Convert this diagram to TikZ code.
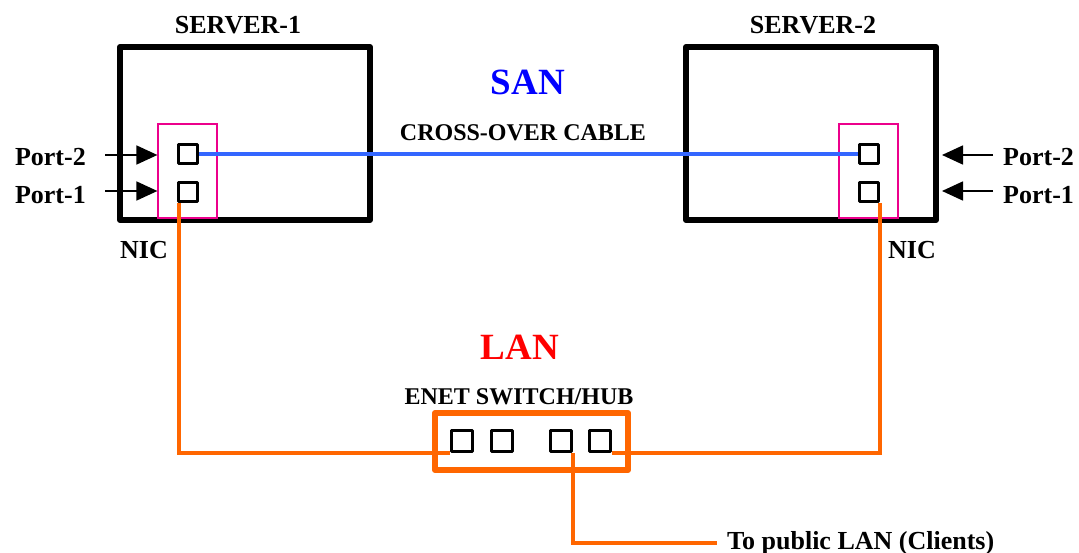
\documentclass[tikz,border=0pt]{standalone}
\usepackage{fontspec}
\setmainfont{Liberation Serif}
\usetikzlibrary{arrows.meta,positioning}
\definecolor{lanorange}{HTML}{FF6600}
\definecolor{sanblue}{HTML}{3366FF}

\begin{document}
\begin{tikzpicture}[
  x=1pt, y=-1pt,
  server/.style={draw, line width=6pt, line join=round, rectangle, minimum width=250pt, minimum height=173pt},
  nicbox/.style={draw=magenta, line width=1.2pt, rectangle, minimum width=59pt, minimum height=94pt},
  port/.style={draw, line width=3pt, line join=round, rectangle, minimum size=19pt, inner sep=0pt},
  switchbox/.style={draw=lanorange, line width=6pt, line join=round, rectangle, minimum width=193pt, minimum height=57pt},
  lbl/.style={font=\bfseries\fontsize{26}{30}\selectfont, inner sep=0pt},
  netname/.style={font=\bfseries\fontsize{37}{40}\selectfont, inner sep=0pt},
  portarrow/.style={line width=1.6pt, -{Triangle[length=21pt,width=19pt]}},
  sancable/.style={draw=sanblue, line width=3.5pt},
  lancable/.style={draw=lanorange, line width=4pt}
]
\useasboundingbox (0,0) rectangle (1079,553);
\node[server] (srv1) at (245,133.5) {};
\node[server] (srv2) at (811,133.5) {};
\node[nicbox] (nic1) at (187.5,171) {};
\node[nicbox] (nic2) at (868.5,171) {};
\node[port] (p12) at (188,154) {};
\node[port] (p11) at (188,192) {};
\node[port] (p22) at (869,154) {};
\node[port] (p21) at (869,192) {};
\node[switchbox] (sw) at (531.5,441.5) {};
\node[port, minimum size=21pt] (s1) at (462,441) {};
\node[port, minimum size=21pt] (s2) at (502,441) {};
\node[port, minimum size=21pt] (s3) at (561,441) {};
\node[port, minimum size=21pt] (s4) at (600,441) {};

\node[lbl] (srvname1) at (238,25) {SERVER-1};
\node[lbl] (srvname2) at (813,25) {SERVER-2};
\node[netname, text=blue] (san) at (528,82) {SAN};
\node[lbl, font=\bfseries\fontsize{24}{28}\selectfont] (xover) at (523,133) {CROSS-OVER CABLE};
\node[lbl] (nicname1) at (144,250) {NIC};
\node[lbl] (nicname2) at (912,250) {NIC};
\node[netname, text=red] (lan) at (520,347) {LAN};
\node[lbl, font=\bfseries\fontsize{24}{28}\selectfont] (swname) at (519,397) {ENET SWITCH/HUB};
\node[lbl, anchor=east] (lp12) at (86,157) {Port-2};
\node[lbl, anchor=east] (lp11) at (86,195) {Port-1};
\node[lbl, anchor=west] (lp22) at (1003,157) {Port-2};
\node[lbl, anchor=west] (lp21) at (1003,195) {Port-1};
\node[lbl, inner xsep=10pt, anchor=west] (clients) at (717,543) {To public LAN (Clients)};

\draw[portarrow] ([xshift=19pt,yshift=2pt]lp12.east) -- ([yshift=2pt]lp12.east -| nic1.west);
\draw[portarrow] ([xshift=19pt,yshift=4pt]lp11.east) -- ([yshift=4pt]lp11.east -| nic1.west);
\draw[portarrow] ([xshift=-10pt,yshift=2pt]lp22.west) -- ([yshift=2pt,xshift=3pt]lp22.west -| srv2.east);
\draw[portarrow] ([xshift=-10pt,yshift=4pt]lp21.west) -- ([yshift=4pt,xshift=3pt]lp21.west -| srv2.east);

\draw[sancable] (p12.east) -- (p22.west);
\draw[lancable] ([xshift=1.5pt]p11.south west) |- (s1.south west);
\draw[lancable] (p21.south east) |- (s4.south east);
\draw[lancable] (s3.south east) |- (clients.west);
\end{tikzpicture}
\end{document}
